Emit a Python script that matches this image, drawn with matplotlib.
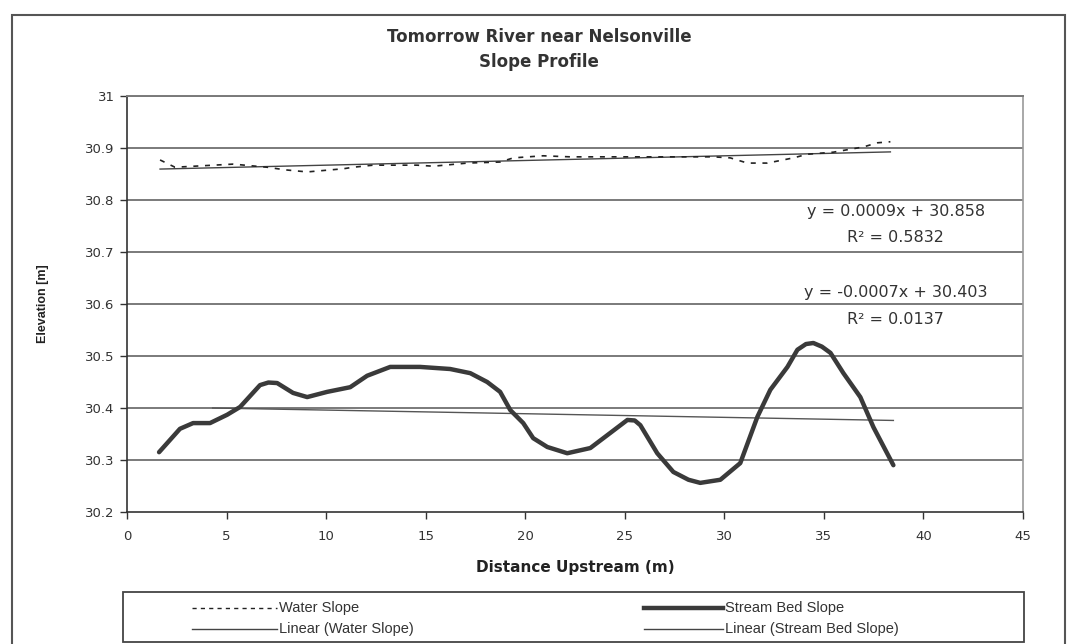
import matplotlib
matplotlib.use("Agg")
import matplotlib.pyplot as plt
from matplotlib.lines import Line2D
from matplotlib.patches import Rectangle
import numpy as np

plt.rcParams['font.family'] = ['DejaVu Sans']

# ---- data ----
bed_x = [1.61, 2.66, 3.32, 4.17, 5.03, 5.68, 6.68, 7.1, 7.54, 8.34, 9.05, 10.05, 11.21,
         12.06, 13.22, 14.72, 16.23, 17.24, 18.09, 18.74, 19.25, 19.90, 20.40, 21.11,
         22.11, 23.27, 24.27, 25.13, 25.5, 25.78, 26.63, 27.44, 28.2, 28.79, 29.80, 30.80,
         31.66, 32.31, 33.17, 33.67, 34.1, 34.47, 34.9, 35.33, 35.98, 36.83, 37.49, 38.49]
bed_y = [30.315, 30.360, 30.371, 30.371, 30.387, 30.402, 30.444, 30.449, 30.448, 30.429,
         30.421, 30.431, 30.440, 30.462, 30.479, 30.479, 30.475, 30.467, 30.450, 30.431,
         30.396, 30.371, 30.342, 30.325, 30.313, 30.323, 30.352, 30.377, 30.376, 30.367,
         30.313, 30.277, 30.262, 30.256, 30.262, 30.294, 30.383, 30.435, 30.479, 30.512,
         30.523, 30.525, 30.518, 30.506, 30.467, 30.421, 30.363, 30.290]

water_x = [1.66, 2.41, 5.33, 7.04, 7.94, 9.05, 10.85, 11.36, 12.36, 14.57, 15.38, 17.09,
           18.74, 19.40, 20.90, 22.26, 29.45, 30.30, 31.16, 32.16, 33.47, 34.17, 35.48,
           36.98, 37.69, 38.34]
water_y = [30.877, 30.863, 30.869, 30.863, 30.858, 30.854, 30.860, 30.863, 30.867, 30.867,
           30.865, 30.871, 30.873, 30.881, 30.885, 30.883, 30.883, 30.881, 30.871, 30.871,
           30.881, 30.888, 30.892, 30.902, 30.910, 30.912]

# trendline coefficients (as shown on chart) and the x-span over which they are drawn
water_fit = (0.0009, 30.858)
water_r2 = 0.5832
water_fit_range = [1.66, 38.34]
bed_fit = (-0.0007, 30.403)
bed_r2 = 0.0137
bed_fit_range = [4.3, 38.49]

x_ticks = [0, 5, 10, 15, 20, 25, 30, 35, 40, 45]
y_ticks = [30.2, 30.3, 30.4, 30.5, 30.6, 30.7, 30.8, 30.9, 31.0]
y_tick_labels = ['30.2', '30.3', '30.4', '30.5', '30.6', '30.7', '30.8', '30.9', '31']

W, H = 1070, 644
fig = plt.figure(figsize=(W / 100, H / 100), dpi=100)
fig.patch.set_facecolor('white')

def fx(px):
    return px / W

def fy(py):
    return 1 - py / H

ax = fig.add_axes([fx(127), fy(512), fx(1023) - fx(127), fy(96) - fy(512)])
ax.set_xlim(0, 45)
ax.set_ylim(30.2, 31.0)

grid_c = '#7a7a7a'
for yv in y_ticks[1:]:
    ax.axhline(yv, color=grid_c, lw=1.4, zorder=1)

ax.plot(water_x, water_y, color='#222222', lw=1.2, linestyle=(0, (3, 4)), zorder=3)
ax.plot(bed_x, bed_y, color='#3a3a3a', lw=3.2, solid_joinstyle='round',
        solid_capstyle='round', zorder=3)

wx = np.array(water_fit_range)
ax.plot(wx, water_fit[0] * wx + water_fit[1], color='#444444', lw=1.0, zorder=2)
bx = np.array(bed_fit_range)
ax.plot(bx, bed_fit[0] * bx + bed_fit[1], color='#555555', lw=1.0, zorder=2)

eq_c = '#333333'
eq_fs = 11.5
ax.text(38.6, 30.778, 'y = %.4fx + %.3f' % water_fit, ha='center', va='center',
        fontsize=eq_fs, color=eq_c)
ax.text(38.6, 30.728, 'R² = %.4f' % water_r2, ha='center', va='center',
        fontsize=eq_fs, color=eq_c)
ax.text(38.6, 30.622, 'y = %.4fx + %.3f' % bed_fit, ha='center', va='center',
        fontsize=eq_fs, color=eq_c)
ax.text(38.6, 30.570, 'R² = %.4f' % bed_r2, ha='center', va='center',
        fontsize=eq_fs, color=eq_c)

ax.set_xticks(x_ticks)
ax.set_xticklabels([str(v) for v in x_ticks])
ax.set_yticks(y_ticks)
ax.set_yticklabels(y_tick_labels)
ax.tick_params(axis='both', direction='out', length=5, width=1, colors='#333333',
               labelsize=9.5, labelcolor='#333333')
ax.tick_params(axis='x', pad=8)
ax.tick_params(axis='y', pad=4)

for s in ['left', 'bottom']:
    ax.spines[s].set_color('#333333')
    ax.spines[s].set_linewidth(1.2)
ax.spines['top'].set_color(grid_c)
ax.spines['top'].set_linewidth(1.4)
ax.spines['right'].set_color('#999999')
ax.spines['right'].set_linewidth(1.2)

ax.set_xlabel('Distance Upstream (m)', fontsize=11, fontweight='bold',
              color='#222222', labelpad=12)
ax.yaxis.set_label_coords(fx(49 - 127) / (fx(1023) - fx(127)), 0.48)
ax.set_ylabel('Elevation [m]', fontsize=9, fontweight='bold', color='#222222',
              family=['Liberation Sans'])

fig.text(fx(539), fy(37), 'Tomorrow River near Nelsonville', ha='center', va='center',
         fontsize=12, fontweight='bold', color='#333333')
fig.text(fx(539), fy(62), 'Slope Profile', ha='center', va='center',
         fontsize=12, fontweight='bold', color='#333333')

# outer chart border
fig.add_artist(Rectangle((fx(12), fy(660)), fx(1065) - fx(12), fy(15) - fy(660),
                         transform=fig.transFigure, fill=False, edgecolor='#555555',
                         lw=1.5))

# legend box (drawn manually to match the two-column layout)
fig.add_artist(Rectangle((fx(123), fy(642)), fx(1024) - fx(123), fy(592) - fy(642),
                         transform=fig.transFigure, fill=False, edgecolor='#444444',
                         lw=1.3))
leg_items = [
    ('Water Slope', 192, 277, 608, dict(color='#222222', lw=1.0, linestyle=(0, (3, 3)))),
    ('Linear (Water Slope)', 192, 277, 629, dict(color='#444444', lw=1.0)),
    ('Stream Bed Slope', 644, 723, 608, dict(color='#3a3a3a', lw=3.2)),
    ('Linear (Stream Bed Slope)', 644, 723, 629, dict(color='#444444', lw=1.0)),
]
for label, x0, x1, yy, style in leg_items:
    fig.add_artist(Line2D([fx(x0), fx(x1)], [fy(yy), fy(yy)],
                          transform=fig.transFigure, **style))
    fig.text(fx(x1 + 2), fy(yy), label, ha='left', va='center', fontsize=10.5,
             color='#333333', family=['Liberation Sans Narrow', 'Liberation Sans'])

fig.savefig('out.png', dpi=100, facecolor='white')
